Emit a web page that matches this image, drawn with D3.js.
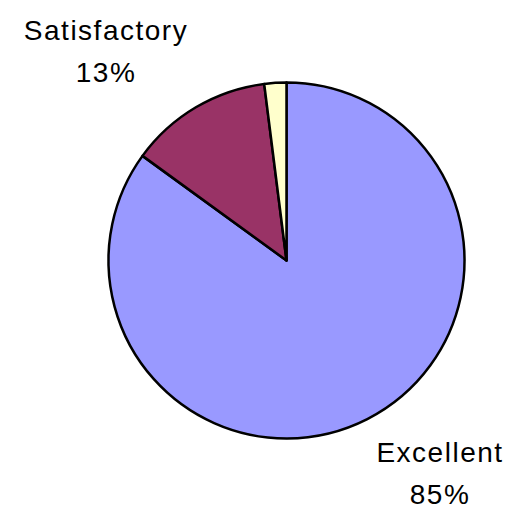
<!DOCTYPE html>
<html>
<head>
<meta charset="utf-8">
<script src="https://cdn.jsdelivr.net/npm/d3@7"></script>
<style>
  body { margin: 0; background: #fff; }
  text { font-family: "Liberation Sans", Arial, sans-serif; fill: #000; }
</style>
</head>
<body>
<div id="chart"></div>
<script>
// Data
var categories = ["Excellent", "Satisfactory", "Other"];
var values = [85, 13, 2];
var showLabel = [true, true, false];
var colors = ["#9999FF", "#993366", "#FFFFCC"];

// Sizing
var width = 510;
var height = 507;
var cx = 286.5;
var cy = 260.5;
var radius = 178;

var svg = d3.select("#chart")
    .append("svg")
    .attr("width", width)
    .attr("height", height);

var pie = d3.pie().sort(null).value(d => d.value);
var arc = d3.arc().innerRadius(0).outerRadius(radius);

var data = categories.map((c, i) => ({ name: c, value: values[i], color: colors[i], label: showLabel[i] }));
var arcs = pie(data);

var g = svg.append("g").attr("transform", `translate(${cx},${cy})`);

g.selectAll("path")
    .data(arcs)
    .enter()
    .append("path")
    .attr("d", arc)
    .attr("fill", d => d.data.color)
    .attr("stroke", "#000")
    .attr("stroke-width", 2.5)
    .attr("stroke-linejoin", "round");

// Labels outside the pie, placed where Excel put them (relative to pie centre)
var total = d3.sum(values);
var labelAnchor = { "Excellent": [153.5, 222], "Satisfactory": [-180.5, -200] };

var labels = g.selectAll("g.label")
    .data(arcs.filter(d => d.data.label))
    .enter()
    .append("g")
    .attr("class", "label")
    .attr("transform", d => {
        var p = labelAnchor[d.data.name];
        return `translate(${p[0]},${p[1]})`;
    });

labels.append("text")
    .attr("text-anchor", "middle")
    .attr("y", -21)
    .style("font-size", "28px")
    .style("letter-spacing", "1.5px")
    .text(d => d.data.name);

labels.append("text")
    .attr("text-anchor", "middle")
    .attr("y", 21)
    .style("font-size", "28px")
    .style("letter-spacing", "1.5px")
    .text(d => Math.round(d.data.value / total * 100) + "%");
</script>
</body>
</html>
